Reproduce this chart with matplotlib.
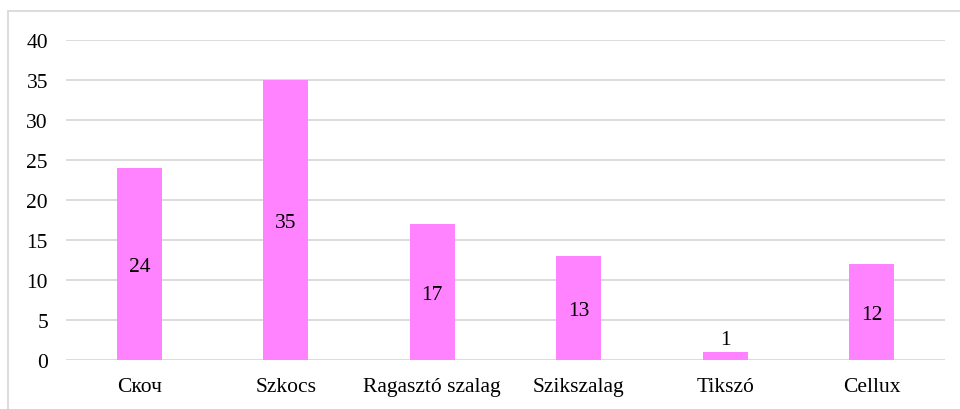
import matplotlib.pyplot as plt
from matplotlib.patches import Rectangle

plt.rcParams['font.family'] = ['Liberation Serif', 'DejaVu Serif']

categories = ["Скоч", "Szkocs", "Ragasztó szalag", "Szikszalag", "Tikszó", "Cellux"]
values = [24, 35, 17, 13, 1, 12]

pink = '#FF83FF'
grid = '#D9D9D9'

fig = plt.figure(figsize=(9.6, 4.1), dpi=100)
ax = fig.add_axes([66/960, 1 - 361/410, (945 - 66)/960, 320/410])

x = range(len(categories))
bars = ax.bar(x, values, width=0.31, color=pink, zorder=2)

for xi, v in zip(x, values):
    if v < 3:
        ax.text(xi, v + 0.4, str(v), ha='center', va='bottom', fontsize=15.5)
    else:
        ax.text(xi, v / 2, str(v), ha='center', va='center_baseline', fontsize=15.5)

ax.set_xlim(-0.5, len(categories) - 0.5)
ax.set_ylim(0, 40)
ax.set_yticks(range(0, 41, 5))
ax.set_xticks(list(x))
ax.set_xticklabels(categories)
ax.tick_params(axis='both', length=0, labelsize=15.5, colors='#000000')
ax.tick_params(axis='x', pad=12)
ax.tick_params(axis='y', pad=13)
ax.yaxis.grid(True, color=grid, linewidth=1.3, zorder=0)
ax.set_axisbelow(True)
for s in ax.spines.values():
    s.set_visible(False)

fig.patches.append(Rectangle((8/960, -0.1), 1.2, 1 - 12/410 + 0.1,
                             transform=fig.transFigure, fill=False,
                             edgecolor=grid, linewidth=1.3))

fig.savefig('out.png', dpi=100)
